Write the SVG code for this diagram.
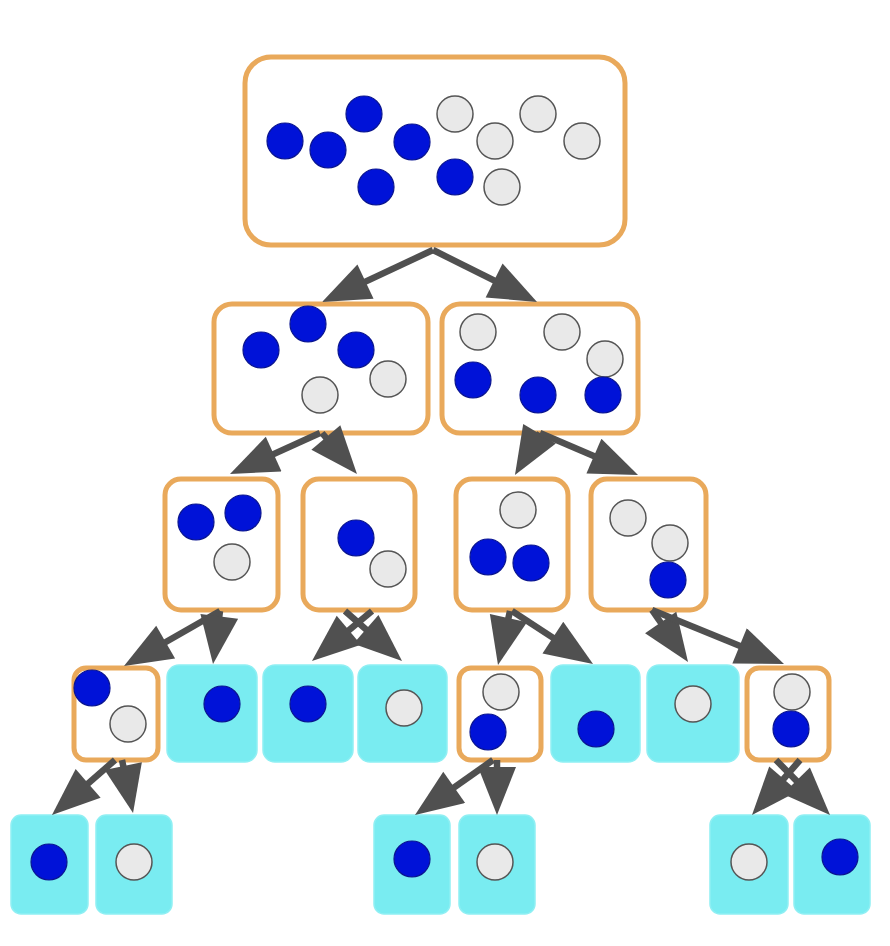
<svg xmlns="http://www.w3.org/2000/svg" width="890" height="946" viewBox="0 0 890 946">
<style>
.on{fill:#ffffff;stroke:#E9A95B;stroke-width:5}
.cy{fill:#79ECF1;stroke:#8FEFF3;stroke-width:1.5}
.b{fill:#0012D8;stroke:#0A1590;stroke-width:1.2}
.g{fill:#E9E9E9;stroke:#555555;stroke-width:1.5}
.cn line{stroke:#505050;stroke-width:6.5;marker-end:url(#ah)}
</style>
<defs>
<marker id="ah" markerUnits="userSpaceOnUse" markerWidth="50" markerHeight="40" viewBox="0 0 50 40" refX="37" refY="19" orient="auto">
<path d="M1,0 L49,19 L1,38 z" fill="#505050"/>
</marker>
</defs>
<rect width="890" height="946" fill="#ffffff"/>
<g id="root">
<rect class="on" x="245" y="57" width="380" height="188" rx="26"/>
<circle class="b" cx="285" cy="141" r="18"/>
<circle class="b" cx="328" cy="150" r="18"/>
<circle class="b" cx="364" cy="114" r="18"/>
<circle class="b" cx="412" cy="142" r="18"/>
<circle class="b" cx="376" cy="187" r="18"/>
<circle class="b" cx="455" cy="177" r="18"/>
<circle class="g" cx="455" cy="114" r="18"/>
<circle class="g" cx="495" cy="141" r="18"/>
<circle class="g" cx="538" cy="114" r="18"/>
<circle class="g" cx="582" cy="141" r="18"/>
<circle class="g" cx="502" cy="187" r="18"/>
</g>
<g id="n2a">
<rect class="on" x="214" y="304" width="214" height="129" rx="18"/>
<circle class="b" cx="261" cy="350" r="18"/>
<circle class="b" cx="308" cy="324" r="18"/>
<circle class="b" cx="356" cy="350" r="18"/>
<circle class="g" cx="320" cy="395" r="18"/>
<circle class="g" cx="388" cy="379" r="18"/>
</g>
<g id="n2b">
<rect class="on" x="442" y="304" width="196" height="129" rx="18"/>
<circle class="g" cx="478" cy="332" r="18"/>
<circle class="g" cx="562" cy="332" r="18"/>
<circle class="g" cx="605" cy="359" r="18"/>
<circle class="b" cx="473" cy="380" r="18"/>
<circle class="b" cx="538" cy="395" r="18"/>
<circle class="b" cx="603" cy="395" r="18"/>
</g>
<g id="n3a">
<rect class="on" x="165" y="479" width="113" height="131" rx="16"/>
<circle class="b" cx="196" cy="522" r="18"/>
<circle class="b" cx="243" cy="513" r="18"/>
<circle class="g" cx="232" cy="562" r="18"/>
</g>
<g id="n3b">
<rect class="on" x="303" y="479" width="112" height="131" rx="16"/>
<circle class="b" cx="356" cy="538" r="18"/>
<circle class="g" cx="388" cy="569" r="18"/>
</g>
<g id="n3c">
<rect class="on" x="456" y="479" width="112" height="131" rx="16"/>
<circle class="g" cx="518" cy="510" r="18"/>
<circle class="b" cx="488" cy="557" r="18"/>
<circle class="b" cx="531" cy="563" r="18"/>
</g>
<g id="n3d">
<rect class="on" x="591" y="479" width="115" height="131" rx="16"/>
<circle class="g" cx="628" cy="518" r="18"/>
<circle class="g" cx="670" cy="543" r="18"/>
<circle class="b" cx="668" cy="580" r="18"/>
</g>
<g id="n4a">
<rect class="on" x="74" y="668" width="84" height="92" rx="12"/>
<circle class="b" cx="92" cy="688" r="18"/>
<circle class="g" cx="128" cy="724" r="18"/>
</g>
<g id="n4b">
<rect class="cy" x="167" y="665" width="90" height="97" rx="12"/>
<circle class="b" cx="222" cy="704" r="18"/>
</g>
<g id="n4c">
<rect class="cy" x="263" y="665" width="90" height="97" rx="12"/>
<circle class="b" cx="308" cy="704" r="18"/>
</g>
<g id="n4d">
<rect class="cy" x="358" y="665" width="89" height="97" rx="12"/>
<circle class="g" cx="404" cy="708" r="18"/>
</g>
<g id="n4e">
<rect class="on" x="459" y="668" width="82" height="92" rx="12"/>
<circle class="g" cx="501" cy="692" r="18"/>
<circle class="b" cx="488" cy="732" r="18"/>
</g>
<g id="n4f">
<rect class="cy" x="551" y="665" width="89" height="97" rx="12"/>
<circle class="b" cx="596" cy="729" r="18"/>
</g>
<g id="n4g">
<rect class="cy" x="647" y="665" width="92" height="97" rx="12"/>
<circle class="g" cx="693" cy="704" r="18"/>
</g>
<g id="n4h">
<rect class="on" x="747" y="668" width="82" height="92" rx="12"/>
<circle class="g" cx="792" cy="692" r="18"/>
<circle class="b" cx="791" cy="729" r="18"/>
</g>
<g id="n5a">
<rect class="cy" x="11" y="815" width="77" height="99" rx="10"/>
<circle class="b" cx="49" cy="862" r="18"/>
</g>
<g id="n5b">
<rect class="cy" x="96" y="815" width="76" height="99" rx="10"/>
<circle class="g" cx="134" cy="862" r="18"/>
</g>
<g id="n5c">
<rect class="cy" x="374" y="815" width="76" height="99" rx="10"/>
<circle class="b" cx="412" cy="859" r="18"/>
</g>
<g id="n5d">
<rect class="cy" x="459" y="815" width="76" height="99" rx="10"/>
<circle class="g" cx="495" cy="862" r="18"/>
</g>
<g id="n5e">
<rect class="cy" x="710" y="815" width="78" height="99" rx="10"/>
<circle class="g" cx="749" cy="862" r="18"/>
</g>
<g id="n5f">
<rect class="cy" x="794" y="815" width="76" height="99" rx="10"/>
<circle class="b" cx="840" cy="857" r="18"/>
</g>
<g id="connectors" class="cn">
<line x1="433" y1="250" x2="332.9" y2="296.9"/>
<line x1="433" y1="250" x2="526.3" y2="296.6"/>
<line x1="320" y1="433" x2="240.9" y2="469"/>
<line x1="322" y1="433" x2="349.2" y2="464.9"/>
<line x1="540" y1="433" x2="521.1" y2="464.7"/>
<line x1="540" y1="433" x2="627" y2="470.3"/>
<line x1="220" y1="611" x2="134.4" y2="660"/>
<line x1="220" y1="611" x2="214.6" y2="652.1"/>
<line x1="372" y1="611" x2="321.2" y2="653.3"/>
<line x1="345" y1="611" x2="393" y2="653.1"/>
<line x1="510" y1="611" x2="500.6" y2="653.3"/>
<line x1="512" y1="611" x2="583" y2="657.4"/>
<line x1="652" y1="610" x2="681.2" y2="652.1"/>
<line x1="652" y1="610" x2="772.9" y2="659.5"/>
<line x1="115" y1="760" x2="61" y2="807.1"/>
<line x1="122" y1="760" x2="130.6" y2="801.3"/>
<line x1="493" y1="760" x2="424.8" y2="808.1"/>
<line x1="497" y1="760" x2="497" y2="803"/>
<line x1="800" y1="760" x2="759.9" y2="806"/>
<line x1="776" y1="760" x2="821.6" y2="806.4"/>
</g>
</svg>
